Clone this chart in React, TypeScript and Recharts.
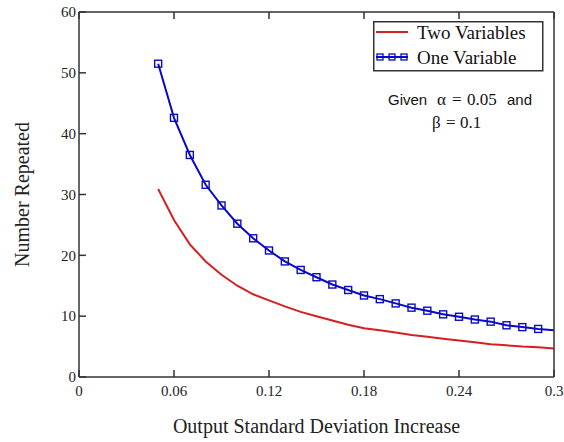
import React from 'react'
import { LineChart, Line, XAxis, YAxis, Legend } from 'recharts'

const deviation = [0.05, 0.06, 0.07, 0.08, 0.09, 0.1, 0.11, 0.12, 0.13, 0.14, 0.15, 0.16, 0.17, 0.18, 0.19, 0.2, 0.21, 0.22, 0.23, 0.24, 0.25, 0.26, 0.27, 0.28, 0.29, 0.3]
const twoVariables = [30.9, 25.8, 21.8, 19.0, 16.8, 15.0, 13.6, 12.6, 11.6, 10.7, 10.0, 9.3, 8.6, 8.0, 7.7, 7.3, 6.9, 6.6, 6.3, 6.0, 5.7, 5.4, 5.2, 5.0, 4.9, 4.7]
const oneVariable = [51.5, 42.6, 36.5, 31.6, 28.2, 25.2, 22.8, 20.8, 19.0, 17.6, 16.4, 15.2, 14.3, 13.4, 12.8, 12.1, 11.4, 10.9, 10.3, 9.9, 9.45, 9.1, 8.5, 8.2, 7.9, 7.7]
const xTicks = [0, 0.06, 0.12, 0.18, 0.24, 0.3]
const yTicks = [0, 10, 20, 30, 40, 50, 60]

const data = deviation.map((d, i) => ({ d, two: twoVariables[i], one: oneVariable[i] }))

const RED = '#d61f1f'
const BLUE = '#0a0ac4'
const FRAME = '#333'
const serif = '"Liberation Serif", "Times New Roman", serif'
const sans = '"Liberation Sans", Arial, sans-serif'

const tickStyle = { fontFamily: serif, fontSize: 15, fill: '#222' }
const lineStyle = { stroke: FRAME, strokeWidth: 1.5 }

// hollow square markers, none at the right edge
const SquareDot = (props: any) => {
  const { cx, cy, payload, index } = props
  if (cx == null || payload.d >= 0.3) return <g key={`sq-${index}`} />
  return <rect key={`sq-${index}`} x={cx - 3.5} y={cy - 3.5} width={7} height={7} fill="none" stroke={BLUE} strokeWidth={1.4} />
}

const LegendBox = () => (
  <svg width={171} height={51} style={{ display: 'block' }}>
    <rect x={0.75} y={0.75} width={169} height={49} fill="#fff" stroke={FRAME} strokeWidth={1.5} />
    <line x1={3} x2={35} y1={11} y2={11} stroke={RED} strokeWidth={2} />
    <text x={44} y={17.5} fontFamily={serif} fontSize={19} fill="#111">Two Variables</text>
    <line x1={3} x2={35} y1={36} y2={36} stroke={BLUE} strokeWidth={2} />
    {[7, 19, 31].map((x) => (
      <rect key={x} x={x - 3} y={33} width={6} height={6} fill="none" stroke={BLUE} strokeWidth={1.3} />
    ))}
    <text x={44} y={42.5} fontFamily={serif} fontSize={19} fill="#111">One Variable</text>
  </svg>
)

export default function App() {
  return (
    <div style={{ position: 'absolute', left: 0, top: 0, width: 564, height: 442, background: '#fff' }}>
      <LineChart width={564} height={442} data={data} margin={{ top: 0, right: 0, bottom: 0, left: 0 }}>
        <XAxis
          dataKey="d"
          type="number"
          domain={[0, 0.3]}
          ticks={xTicks}
          interval={0}
          height={65}
          tickSize={-7}
          tickMargin={15}
          tick={tickStyle}
          axisLine={lineStyle}
          tickLine={lineStyle}
          allowDataOverflow
          label={{ value: 'Output Standard Deviation Increase', position: 'insideBottom', offset: 9, style: { fontFamily: serif, fontSize: 20, fill: '#222' } }}
        />
        <XAxis
          xAxisId="top"
          orientation="top"
          dataKey="d"
          type="number"
          domain={[0, 0.3]}
          ticks={xTicks}
          interval={0}
          height={12}
          tickSize={-7}
          tickFormatter={() => ''}
          axisLine={lineStyle}
          tickLine={lineStyle}
        />
        <YAxis
          type="number"
          domain={[0, 60]}
          ticks={yTicks}
          interval={0}
          width={79}
          tickSize={-7}
          tickMargin={10}
          tick={tickStyle}
          axisLine={lineStyle}
          tickLine={lineStyle}
          label={{ value: 'Number Repeated', angle: -90, position: 'insideLeft', offset: 22, style: { textAnchor: 'middle', fontFamily: serif, fontSize: 20, fill: '#222' } }}
        />
        <YAxis
          yAxisId="right"
          orientation="right"
          type="number"
          domain={[0, 60]}
          ticks={yTicks}
          interval={0}
          width={10}
          tickSize={-7}
          tickFormatter={() => ''}
          axisLine={lineStyle}
          tickLine={lineStyle}
        />
        <Legend
          layout="vertical"
          align="center"
          verticalAlign="middle"
          wrapperStyle={{ left: 373, top: 21, width: 171, height: 51 }}
          content={LegendBox}
        />
        <Line type="linear" dataKey="two" name="Two Variables" stroke={RED} strokeWidth={2} dot={false} isAnimationActive={false} />
        <Line type="linear" dataKey="one" name="One Variable" stroke={BLUE} strokeWidth={2} dot={SquareDot} isAnimationActive={false} />
      </LineChart>
      <svg width={564} height={442} style={{ position: 'absolute', left: 0, top: 0, pointerEvents: 'none' }}>
        <text y={105} fill="#111">
          <tspan x={388} fontFamily={sans} fontSize={15}>Given</tspan>
          <tspan x={437} fontFamily={serif} fontSize={17}>α</tspan>
          <tspan x={452} fontFamily={serif} fontSize={17}>=</tspan>
          <tspan x={467} fontFamily={serif} fontSize={17}>0.05</tspan>
          <tspan x={507} fontFamily={sans} fontSize={15}>and</tspan>
        </text>
        <text y={128} fill="#111" fontFamily={serif} fontSize={17}>
          <tspan x={432}>β</tspan>
          <tspan x={446}>=</tspan>
          <tspan x={460}>0.1</tspan>
        </text>
      </svg>
    </div>
  )
}
